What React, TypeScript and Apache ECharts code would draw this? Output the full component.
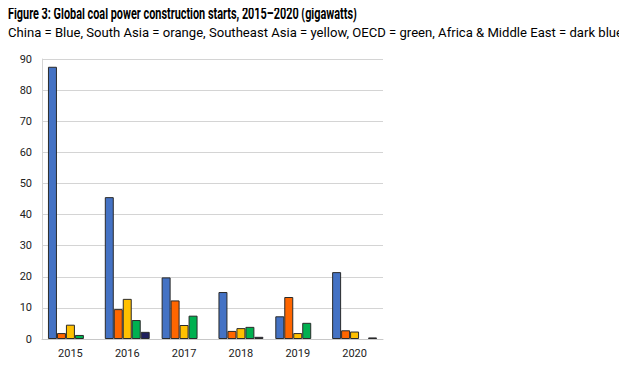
import React, { useEffect, useRef } from "react";
import * as echarts from "echarts";

const years = ["2015", "2016", "2017", "2018", "2019", "2020"];
const china = [87.5, 45.6, 19.8, 15.1, 7.3, 21.5];
const southAsia = [1.9, 9.6, 12.4, 2.6, 13.5, 2.8];
const southeastAsia = [4.6, 12.9, 4.5, 3.5, 1.9, 2.4];
const oecd = [1.3, 6.1, 7.5, 3.9, 5.2, null];
const africaME = [null, 2.3, null, 0.7, null, 0.5];
const yTicks = [0, 10, 20, 30, 40, 50, 60, 70, 80, 90];

const title = "Figure 3: Global coal power construction starts, 2015\u20132020 (gigawatts)";
const subtitle =
  "China = Blue, South Asia = orange, Southeast Asia = yellow, OECD = green, Africa & Middle East = dark blue";

export default function App() {
  const ref = useRef<HTMLDivElement>(null);
  useEffect(() => {
    if (!ref.current) return;
    const chart = echarts.init(ref.current, null, { renderer: "svg" });
    const mk = (name: string, data: any[], color: string) => ({
      name,
      type: "bar",
      data,
      barGap: "0%",
      barCategoryGap: "21%",
      itemStyle: {
        color,
        borderColor: "#2a2a2a",
        borderWidth: 1,
      },
    });
    chart.setOption({
      animation: false,
      backgroundColor: "#ffffff",
      textStyle: { fontFamily: "Roboto" },
      graphic: [
        {
          type: "text",
          x: 8,
          y: 5,
          scaleX: 0.68,
          style: {
            text: title,
            font: "bold 16px Roboto",
            fill: "#000",
          },
        },
        {
          type: "text",
          x: 8,
          y: 26,
          style: {
            text: subtitle,
            font: "13.1px Roboto",
            fill: "#000",
          },
        },
      ],
      grid: { left: 42, right: 244, top: 59, bottom: 34, containLabel: false },
      xAxis: {
        type: "category",
        data: years,
        axisLine: { show: true, lineStyle: { color: "#c8c8c8", width: 1 } },
        axisTick: { show: false },
        axisLabel: { color: "#222", fontSize: 11, margin: 9, fontFamily: "Roboto" },
      },
      yAxis: {
        type: "value",
        min: 0,
        max: 90,
        interval: 10,
        axisLine: { show: true, lineStyle: { color: "#d4d4d4", width: 1 } },
        axisTick: { show: false },
        axisLabel: {
          color: "#222",
          fontSize: 11,
          margin: 10,
          fontFamily: "Roboto",
          formatter: (v: number) => (yTicks.includes(v) ? String(v) : ""),
        },
        splitLine: { show: true, lineStyle: { color: "#d4d4d4", width: 1 } },
      },
      series: [
        mk("China", china, "#4472C4"),
        mk("South Asia", southAsia, "#FF6600"),
        mk("Southeast Asia", southeastAsia, "#FFC000"),
        mk("OECD", oecd, "#00B050"),
        mk("Africa & Middle East", africaME, "#1F1F5C"),
      ],
    });
    return () => chart.dispose();
  }, []);
  return <div ref={ref} style={{ width: 627, height: 373, margin: -8 }} />;
}
